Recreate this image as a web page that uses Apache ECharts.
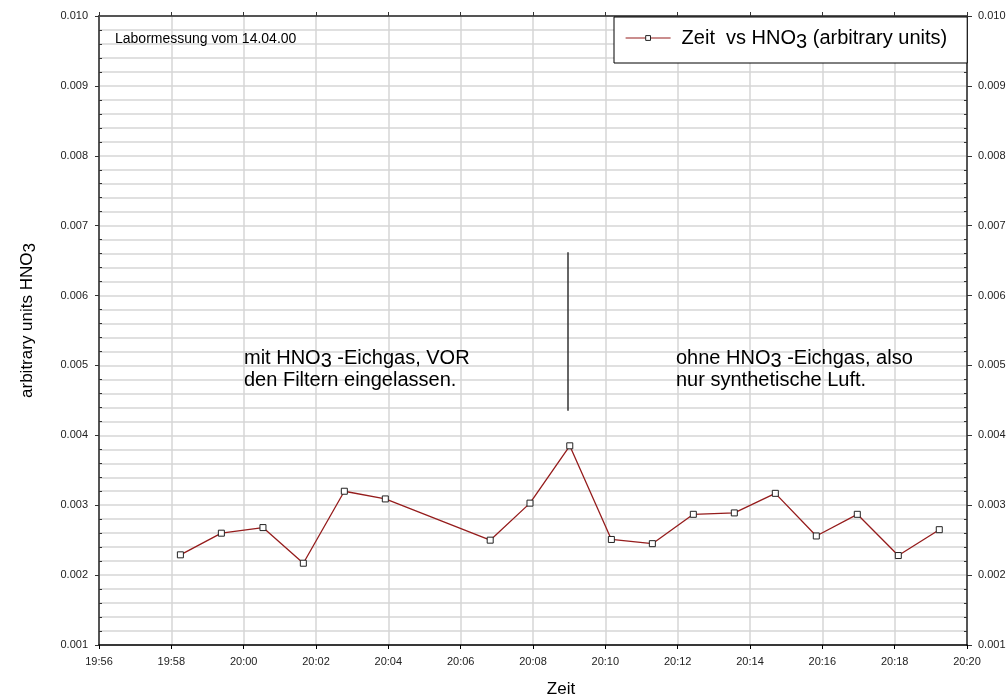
<!DOCTYPE html>
<html>
<head>
<meta charset="utf-8">
<script src="https://cdn.jsdelivr.net/npm/echarts@6/dist/echarts.min.js"></script>
<style>html,body{margin:0;padding:0;background:#fff;}#c{width:1007px;height:698px;}</style>
</head>
<body>
<div id="c"></div>
<script>
// ---- data ----
const times = ["19:58:15","19:59:23","20:00:32","20:01:39","20:02:47","20:03:55","20:06:49","20:07:55","20:09:01","20:10:10","20:11:18","20:12:26","20:13:34","20:14:42","20:15:50","20:16:58","20:18:06","20:19:14"];
const hno3 = [0.00229,0.00260,0.00268,0.00217,0.00320,0.00309,0.00250,0.00303,0.00385,0.00251,0.00245,0.00287,0.00289,0.00317,0.00256,0.00287,0.00228,0.00265];
const xRange = ["19:56","20:20"];
const yRange = [0.001, 0.010];
const markTime = "20:08:57";
const markValues = [0.00435, 0.00662];
const seriesName = "Zeit  vs HNO3 (arbitrary units)";
const noteTop = "Labormessung vom 14.04.00";
const noteLeft = "mit HNO{s|3} -Eichgas, VOR\nden Filtern eingelassen.";
const noteRight = "ohne HNO{s|3} -Eichgas, also\nnur synthetische Luft.";

// ---- helpers ----
const toMin = s => { const p = s.split(':').map(Number); return p[0]*60 + p[1] + (p[2]||0)/60; };
const fmtHM = v => { const h = Math.floor(v/60), m = Math.round(v - h*60); return h + ':' + String(m).padStart(2,'0'); };
const FF = 'Liberation Sans, Arial, sans-serif';
const GRID = '#d6d6d6';

const chart = echarts.init(document.getElementById('c'), null, {renderer:'canvas'});
const xMin = toMin(xRange[0]), xMax = toMin(xRange[1]);
const data = times.map((t,i) => [toMin(t), hno3[i]]);

const yBase = {type:'value', min: yRange[0], max: yRange[1], interval: 0.001, gridIndex:0};
const subRich = (fs) => ({ s: {fontSize: fs, fontFamily: FF, color:'#000', padding:[Math.round(fs*0.4),0,0,0]} });

chart.setOption({
  animation: false,
  backgroundColor: '#fff',
  grid: {left: 99, right: 40, top: 16, bottom: 53, containLabel: false, outerBoundsMode: 'none'},
  xAxis: [
    {type:'value', position:'bottom', min:xMin, max:xMax, interval:2,
     axisLine:{show:true, onZero:false, lineStyle:{color:'#000', width:1.5}},
     axisTick:{show:true, length:4, lineStyle:{color:'#000'}},
     axisLabel:{formatter: fmtHM, fontSize:11, color:'#222', fontFamily:FF, margin:11},
     splitLine:{show:true, lineStyle:{color:GRID, width:1.5}},
     name:'Zeit', nameLocation:'middle', nameGap:36,
     nameTextStyle:{fontSize:17, color:'#000', fontFamily:FF, padding:[0,0,0,56]}},
    {type:'value', position:'top', min:xMin, max:xMax, interval:2,
     axisLine:{show:true, onZero:false, lineStyle:{color:'#555', width:2}},
     axisTick:{show:true, length:4, lineStyle:{color:'#333'}},
     axisLabel:{show:false}, splitLine:{show:false}}
  ],
  yAxis: [
    Object.assign({}, yBase, {position:'left',
     axisLine:{show:true, onZero:false, lineStyle:{color:'#555', width:2}},
     axisTick:{show:true, length:4, lineStyle:{color:'#333'}},
     axisLabel:{formatter: v => v.toFixed(3), fontSize:11, color:'#222', fontFamily:FF, margin:11},
     splitLine:{show:true, lineStyle:{color:GRID, width:1.5}},
     minorTick:{show:false, splitNumber:5},
     minorSplitLine:{show:true, lineStyle:{color:GRID, width:1.5}},
     name:'arbitrary units HNO{s|3}', nameLocation:'middle', nameGap:60,
     nameTextStyle:{fontSize:17, color:'#000', fontFamily:FF, padding:[0,0,0,20], rich: subRich(17)}}),
    Object.assign({}, yBase, {position:'right',
     axisLine:{show:true, onZero:false, lineStyle:{color:'#555', width:2}},
     axisTick:{show:true, length:5, lineStyle:{color:'#333'}},
     axisLabel:{formatter: v => v.toFixed(3), fontSize:11, color:'#222', fontFamily:FF, margin:11},
     splitLine:{show:false}}),
    Object.assign({}, yBase, {position:'left',
     axisLine:{show:false}, axisTick:{show:false, inside:true},
     minorTick:{show:true, splitNumber:5, length:3, lineStyle:{color:'#333'}},
     axisLabel:{show:false}, splitLine:{show:false}}),
    Object.assign({}, yBase, {position:'right',
     axisLine:{show:false}, axisTick:{show:false, inside:true},
     minorTick:{show:true, splitNumber:5, length:3, lineStyle:{color:'#333'}},
     axisLabel:{show:false}, splitLine:{show:false}})
  ],
  legend: {
    left: 614, top: 17, itemWidth: 45, itemHeight: 6, padding:[11,20,11,11],
    borderColor:'#000', borderWidth:1, backgroundColor:'#fff', borderRadius:0,
    data:[seriesName],
    lineStyle:{width:1.2},
    itemStyle:{borderWidth:1},
    formatter: () => 'Zeit  vs HNO{s|3} (arbitrary units)',
    textStyle:{fontSize:20, color:'#000', fontFamily:FF, padding:[0,0,0,6], rich: subRich(20)}
  },
  series: [{
    name: seriesName, type:'line', xAxisIndex:0, yAxisIndex:0,
    data: data, symbol:'rect', symbolSize:6, showSymbol:true,
    lineStyle:{color:'#951c1c', width:1.3},
    itemStyle:{color:'#fff', borderColor:'#222', borderWidth:1},
    markLine:{silent:true, symbol:['none','none'], label:{show:false},
      lineStyle:{color:'#333', width:1.5, type:'solid'},
      data:[[{coord:[toMin(markTime), markValues[0]]},{coord:[toMin(markTime), markValues[1]]}]]}
  }],
  graphic: [
    {type:'text', left:115, top:32, z:100, style:{text:noteTop, fontSize:14, fill:'#000', fontFamily:FF}},
    {type:'text', left:244, top:345, z:100, style:{text:noteLeft, fontSize:20, lineHeight:22, fill:'#000', fontFamily:FF,
      rich:{s:{fontSize:20, fontFamily:FF, fill:'#000', padding:[6,0,0,0], lineHeight:22}}}},
    {type:'text', left:676, top:345, z:100, style:{text:noteRight, fontSize:20, lineHeight:22, fill:'#000', fontFamily:FF,
      rich:{s:{fontSize:20, fontFamily:FF, fill:'#000', padding:[6,0,0,0], lineHeight:22}}}}
  ]
});
</script>
</body>
</html>
